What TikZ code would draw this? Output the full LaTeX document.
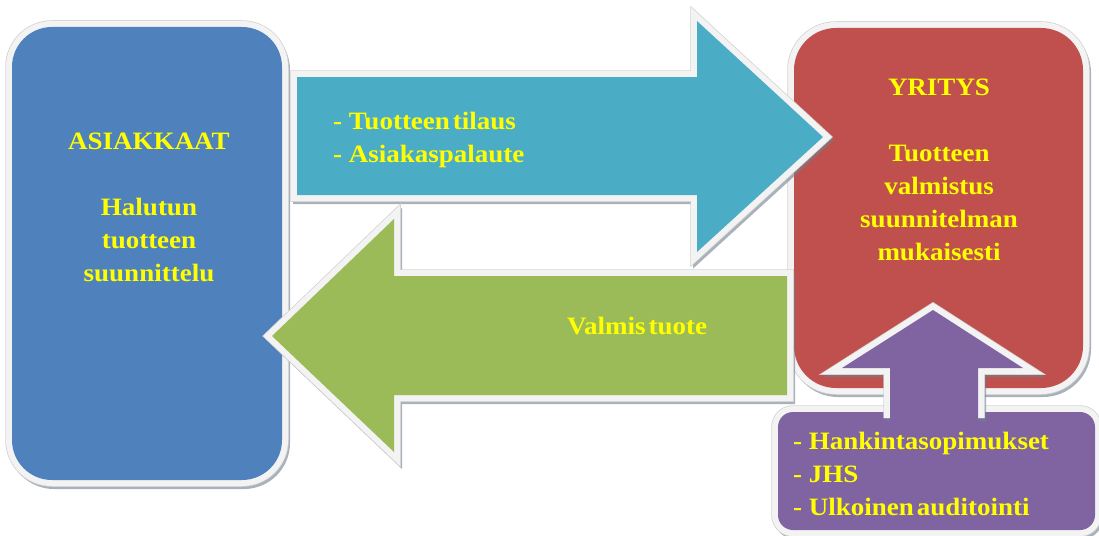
\documentclass[tikz,border=0pt]{standalone}
\usepackage{fontspec}
\setmainfont{Liberation Serif}[FakeStretch=1.08]
\definecolor{panelblue}{HTML}{4F81BD}
\definecolor{panelred}{HTML}{C0504D}
\definecolor{arrowcyan}{HTML}{4BACC6}
\definecolor{arrowgreen}{HTML}{9BBB59}
\definecolor{panelpurple}{HTML}{8064A2}
\definecolor{textyellow}{HTML}{FFFF00}
\definecolor{framewhite}{HTML}{F3F3F3}
\definecolor{frameedge}{HTML}{D2D2D2}
\definecolor{shadowgray}{HTML}{6F7F8E}
\tikzset{
  shadowstyle/.style={fill=shadowgray, draw=shadowgray, line width=12pt,
    line join=miter, opacity=0.6},
  framed/.style={
    preaction={draw=frameedge, line width=13.5pt, line join=miter},
    preaction={draw=framewhite, line width=12pt, line join=miter}},
  txt/.style={text=textyellow, inner sep=0pt,
    font=\bfseries\fontsize{25}{33}\selectfont},
}
% shadow, white frame and fill of one shape
\newcommand\drawpanel[3]{%
  \begin{scope}[shift={(2,3)}]\path[shadowstyle,#3] #2;\end{scope}
  \path[framed,fill=#1,#3] #2;}
\begin{document}
\begin{tikzpicture}[x=1pt,y=-1pt]
\useasboundingbox (0,0) rectangle (1099,535);

% customers and company panels
\drawpanel{panelblue}{(12,27) rectangle (282,480)}{rounded corners=40pt}
\drawpanel{panelred}{(794,28) rectangle (1083,388)}{rounded corners=42pt}
\drawpanel{panelpurple}{(778,412) rectangle (1095,530)}{rounded corners=15pt}

% order arrow to the company
\drawpanel{arrowcyan}{(297,77) -- (697,77) -- (697,21) -- (823,137)
  -- (697,252) -- (697,195) -- (297,195) -- cycle}{}

% delivery arrow back to the customers
\drawpanel{arrowgreen}{(787,276) -- (394,276) -- (394,219) -- (272,336)
  -- (394,452) -- (394,395) -- (787,395) -- cycle}{}

% up arrow from the requirements box, open at its foot
\begin{scope}[shift={(2,3)}]
  \path[shadowstyle, fill=none] (890,418) -- (890,368) -- (842,368) -- (933,310)
    -- (1023,368) -- (978,368) -- (978,418);
\end{scope}
\draw[frameedge, line width=13.5pt, line join=miter] (890,418) -- (890,368)
  -- (842,368) -- (933,310) -- (1023,368) -- (978,368) -- (978,418);
\draw[framewhite, line width=12pt, line join=miter] (890,418) -- (890,368)
  -- (842,368) -- (933,310) -- (1023,368) -- (978,368) -- (978,418);
\fill[panelpurple] (890,424) -- (890,368) -- (842,368) -- (933,310)
  -- (1023,368) -- (978,368) -- (978,424) -- cycle;

% texts
\node[txt, align=center, anchor=north] (asiakkaat) at (149,133)
  {ASIAKKAAT\\[33pt]Halutun\\tuotteen\\suunnittelu};
\node[txt, align=center, anchor=north] (yritys) at (939,79)
  {YRITYS\\[33pt]Tuotteen\\valmistus\\suunnitelman\\mukaisesti};
\node[txt, align=left, anchor=north west] (tilaus) at (333,112)
  {- Tuotteen\hspace{3pt}tilaus\\- Asiakaspalaute};
\node[txt, anchor=base] (tuote) at (637,334) {Valmis\hspace{3pt}tuote};
\node[txt, align=left, anchor=north west] (vaatimukset) at (793,432)
  {- Hankintasopimukset\\- JHS\\- Ulkoinen\hspace{3pt}auditointi};
\end{tikzpicture}
\end{document}
